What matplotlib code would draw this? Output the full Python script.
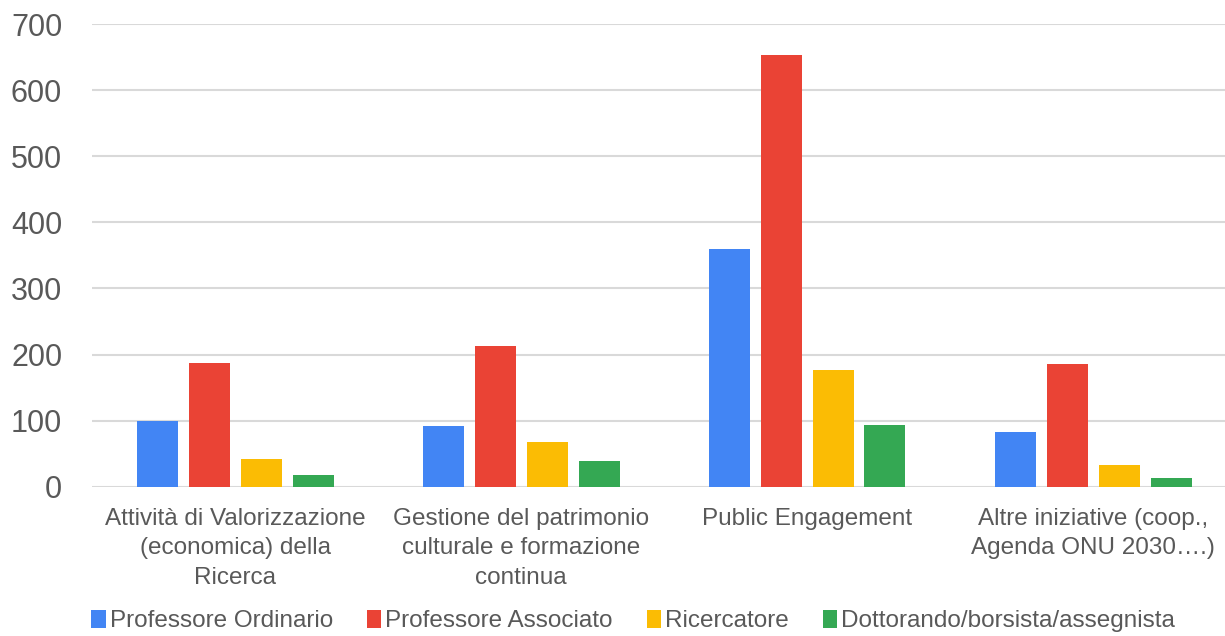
import matplotlib
matplotlib.use("Agg")
import matplotlib.pyplot as plt
import numpy as np

categories = [
    "Attività di Valorizzazione\n(economica) della\nRicerca",
    "Gestione del patrimonio\nculturale e formazione\ncontinua",
    "Public Engagement",
    "Altre iniziative (coop.,\nAgenda ONU 2030….)",
]
series_names = ["Professore Ordinario", "Professore Associato", "Ricercatore",
                "Dottorando/borsista/assegnista"]
professore_ordinario = [99, 92, 359, 82]
professore_associato = [187, 213, 653, 185]
ricercatore = [42, 68, 177, 33]
dottorando = [17, 39, 93, 13]
y_ticks = [0, 100, 200, 300, 400, 500, 600, 700]

colors = ["#4285F4", "#EA4335", "#FBBC04", "#34A853"]
text_color = "#595959"

plt.rcParams['font.family'] = ['Liberation Sans', 'DejaVu Sans']

fig = plt.figure(figsize=(12.25, 6.36), dpi=100)
ax = fig.add_axes([92/1225, 1 - 486.7/636, 1 - 92/1225, (486.7 - 24)/636])

x = np.arange(len(categories))
step = 52/286
width = 41/286
all_series = [professore_ordinario, professore_associato, ricercatore, dottorando]
for i, (vals, name, c) in enumerate(zip(all_series, series_names, colors)):
    ax.bar(x + (i - 1.5) * step, vals, width, color=c, label=name, zorder=3)

ax.set_xlim(-0.5, (1225 - 235)/286)
ax.set_ylim(0, 700)
ax.set_yticks(y_ticks)
ax.set_yticklabels([str(v) for v in y_ticks], fontsize=22, color=text_color)
ax.tick_params(axis='y', length=0, pad=21.5)
ax.set_xticks(x)
ax.set_xticklabels(categories, fontsize=17.5, color=text_color, linespacing=1.45)
ax.tick_params(axis='x', length=0, pad=15)
ax.grid(axis='y', color="#d9d9d9", linewidth=1.5, zorder=0)
for s in ax.spines.values():
    s.set_visible(False)
ax.set_axisbelow(True)

handles, labels = ax.get_legend_handles_labels()
leg = fig.legend(handles, labels, loc='center', bbox_to_anchor=(633/1225, 1 - 621/636),
                 ncol=4, frameon=False, fontsize=17.5, handlelength=0.6, handleheight=0.8,
                 handletextpad=0.15, columnspacing=1.4, borderaxespad=0)
for t in leg.get_texts():
    t.set_color(text_color)

fig.savefig("out.png", dpi=100)
